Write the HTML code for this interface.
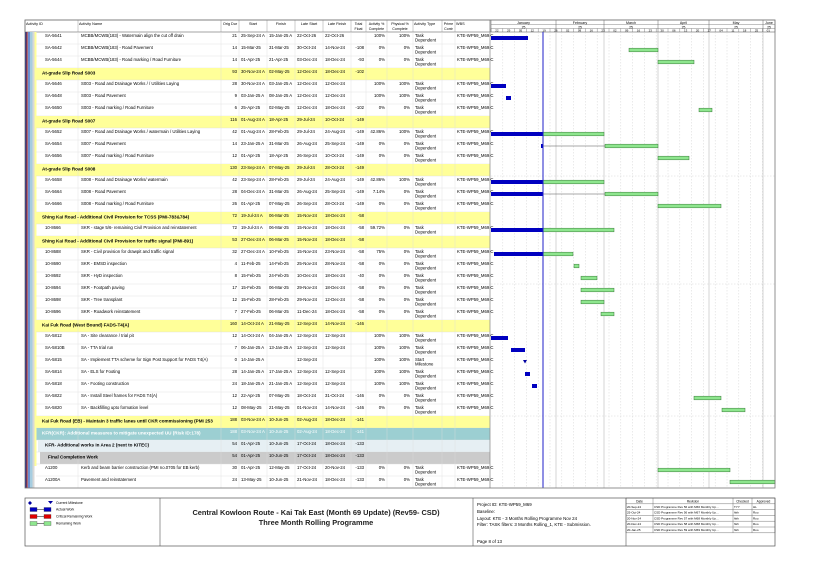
<!DOCTYPE html>
<html><head><meta charset="utf-8"><style>
html,body{margin:0;padding:0;background:#fff;width:822px;height:581px;overflow:hidden}
svg{display:block;font-family:"Liberation Sans",sans-serif}
</style></head><body>
<svg id="s" width="822" height="581" viewBox="0 0 822 581" xmlns="http://www.w3.org/2000/svg"></svg>
<script>
const R=[
['a','SA-5641','MCBB/MCWB(183) - Watermain align the cut off drain','21','25-Sep-24 A','15-Jan-25 A','22-Oct-26','22-Oct-26','','100%','100%','Task Dependent',[['b',491,528]]],
['a','SA-5642','MCBB/MCWB(183) - Road Pavement','14','15-Mar-25','31-Mar-25','30-Oct-24','14-Nov-24','-108','0%','0%','Task Dependent',[['g',629,658]]],
['a','SA-5644','MCBB/MCWB(183) - Road marking / Road Furniture','14','01-Apr-25','21-Apr-25','03-Dec-24','18-Dec-24','-93','0%','0%','Task Dependent',[['g',658,694]]],
['y','','At-grade Slip Road S003','93','30-Nov-24 A','02-May-25','12-Dec-24','18-Dec-24','-102'],
['a','SA-5646','S003 - Road and Drainage Works / / Utilities Laying','28','30-Nov-24 A','03-Jan-25 A','12-Dec-24','12-Dec-24','','100%','100%','Task Dependent',[['b',491,506]]],
['a','SA-5648','S003 - Road Pavement','9','03-Jan-25 A','08-Jan-25 A','12-Dec-24','12-Dec-24','','100%','100%','Task Dependent',[['b',506,511]]],
['a','SA-5650','S003 - Road marking / Road Furniture','6','25-Apr-25','02-May-25','12-Dec-24','18-Dec-24','-102','0%','0%','Task Dependent',[['g',699,712]]],
['y','','At-grade Slip Road S007','116','01-Aug-24 A','18-Apr-25','29-Jul-24','10-Oct-24','-149'],
['a','SA-5652','S007 - Road and Drainage Works / watermain / Utilities Laying','42','01-Aug-24 A','28-Feb-25','29-Jul-24','24-Aug-24','-149','42.86%','100%','Task Dependent',[['b',491,543],['g',543,604]]],
['a','SA-5654','S007 - Road Pavement','14','23-Jan-25 A','31-Mar-25','26-Aug-24','25-Sep-24','-149','0%','0%','Task Dependent',[['b',541,543],['l',543,605],['g',605,658]]],
['a','SA-5656','S007 - Road marking / Road Furniture','12','01-Apr-25','18-Apr-25','26-Sep-24','10-Oct-24','-149','0%','0%','Task Dependent',[['g',658,689]]],
['y','','At-grade Slip Road S008','130','23-Sep-24 A','07-May-25','29-Jul-24','28-Oct-24','-149'],
['a','SA-5658','S008 - Road and Drainage Works/ watermain','42','23-Sep-24 A','28-Feb-25','29-Jul-24','24-Aug-24','-149','42.86%','100%','Task Dependent',[['b',491,543],['g',543,604]]],
['a','SA-5664','S008 - Road Pavement','28','04-Dec-24 A','31-Mar-25','26-Aug-24','25-Sep-24','-149','7.14%','0%','Task Dependent',[['b',491,543],['l',543,605],['g',605,658]]],
['a','SA-5666','S008 - Road marking / Road Furniture','26','01-Apr-25','07-May-25','26-Sep-24','28-Oct-24','-149','0%','0%','Task Dependent',[['g',658,721]]],
['y','','Shing Kai Road - Additional Civil Provision for TCSS (PMI-783&784)','72','19-Jul-24 A','06-Mar-25','15-Nov-24','18-Dec-24','-58'],
['a','10-8666','SKR - stage 5/6- remaining Civil Provision and reinstatement','72','19-Jul-24 A','06-Mar-25','15-Nov-24','18-Dec-24','-58','59.72%','0%','Task Dependent',[['b',491,543],['g',543,614]]],
['y','','Shing Kai Road - Additional Civil Provision for traffic signal (PMI-891)','53','27-Dec-24 A','06-Mar-25','15-Nov-24','18-Dec-24','-58'],
['a','10-8688','SKR - Civil provision for drawpit and traffic signal','32','27-Dec-24 A','10-Feb-25','15-Nov-24','23-Nov-24','-58','75%','0%','Task Dependent',[['b',494,543],['g',543,573]]],
['a','10-8690','SKR - EMSD inspection','4','11-Feb-25','14-Feb-25','25-Nov-24','28-Nov-24','-58','0%','0%','Task Dependent',[['g',574,579]]],
['a','10-8692','SKR - HyD inspection','8','15-Feb-25','24-Feb-25','10-Dec-24','18-Dec-24','-40','0%','0%','Task Dependent',[['g',581,597]]],
['a','10-8694','SKR - Footpath paving','17','15-Feb-25','06-Mar-25','29-Nov-24','18-Dec-24','-58','0%','0%','Task Dependent',[['g',581,614]]],
['a','10-8698','SKR - Tree transplant','12','15-Feb-25','28-Feb-25','29-Nov-24','12-Dec-24','-58','0%','0%','Task Dependent',[['g',581,604]]],
['a','10-8696','SKR - Roadwork reinstatement','7','27-Feb-25','06-Mar-25','11-Dec-24','18-Dec-24','-58','0%','0%','Task Dependent',[['g',601,614]]],
['y','','Kai Fuk Road (West Bound) FADS-T4(A)','160','14-Oct-24 A','21-May-25','12-Sep-24','14-Nov-24','-146'],
['a','SA-5812','SA - Site clearance / trial pit','12','14-Oct-24 A','04-Jan-25 A','12-Sep-24','12-Sep-24','','100%','100%','Task Dependent',[['b',491,508]]],
['a','SA-5810B','SA - TTA trial run','7','06-Jan-25 A','13-Jan-25 A','12-Sep-24','12-Sep-24','','100%','100%','Task Dependent',[['b',511,525]]],
['a','SA-5815','SA - Implement TTA scheme for Sign Post Support for FADS T4(A)','0','14-Jan-25 A','','12-Sep-24','','','100%','100%','Start Milestone',[['m',525,525]]],
['a','SA-5814','SA - ELS for Footing','28','14-Jan-25 A','17-Jan-25 A','12-Sep-24','12-Sep-24','','100%','100%','Task Dependent',[['b',525,530]]],
['a','SA-5818','SA - Footing construction','24','18-Jan-25 A','21-Jan-25 A','12-Sep-24','12-Sep-24','','100%','100%','Task Dependent',[['b',532,537]]],
['a','SA-5822','SA - Install Steel frames for FADS T4(A)','12','22-Apr-25','07-May-25','18-Oct-24','31-Oct-24','-146','0%','0%','Task Dependent',[['g',694,721]]],
['a','SA-5820','SA - Backfilling upto formation level','12','08-May-25','21-May-25','01-Nov-24','14-Nov-24','-146','0%','0%','Task Dependent',[['g',722,745]]],
['y','','Kai Fuk Road (EB) - Maintain 3 traffic lanes until CKR commissioning (PMI 253','188','03-Nov-24 A','10-Jun-25','02-Aug-24','18-Dec-24','-141'],
['t','','KFR(CKR): Additional measures to mitigate unexpected UU (Risk ID:178)','188','03-Nov-24 A','10-Jun-25','02-Aug-24','18-Dec-24','-141'],
['l','','KFR- Additional works in Area 2 (next to KITEC)','54','01-Apr-25','10-Jun-25','17-Oct-24','18-Dec-24','-133'],
['g','','Final Completion Work','54','01-Apr-25','10-Jun-25','17-Oct-24','18-Dec-24','-133'],
['a','A1200','Kerb and beam barrier construction (PMI no.0705 for EB kerb)','30','01-Apr-25','12-May-25','17-Oct-24','20-Nov-24','-133','0%','0%','Task Dependent',[['g',658,730]]],
['a','A1200A','Pavement and reinstatement','24','13-May-25','10-Jun-25','21-Nov-24','18-Dec-24','-133','0%','0%','Task Dependent',[['g',730,775]]]
];
let o='';
const T=(x,y,t,opt={})=>`<text x="${x}" y="${y}" font-size="${opt.fs||4.3}" ${opt.a?'text-anchor="'+opt.a+'"':''} ${opt.b?'font-weight="bold"':''} fill="${opt.c||'#000'}">${t}</text>`;
// header
o+='<rect x="25" y="20" width="750" height="12" fill="#fff" stroke="#666" stroke-width="0.6"/>';
const cols=[25,78,221,239,267,295,323,351,366,387,413,442,455,490];
const hdr=['Activity ID','Activity Name','Orig Dur','Start','Finish','Late Start','Late Finish','Total Float','Activity % Complete','Physical % Complete','Activity Type','Prime Contr','WBS'];
cols.forEach(x=>o+=`<line x1="${x}" y1="20" x2="${x}" y2="32" stroke="#999" stroke-width="0.5"/>`);
hdr.forEach((h,i)=>{const w=h.split(' ');if(i>=7&&i<=9||i==11){const m=Math.ceil(w.length/2);o+=T((cols[i]+cols[i+1])/2,25,w.slice(0,m).join(' '),{a:'middle',fs:3.6})+T((cols[i]+cols[i+1])/2,30,w.slice(m).join(' '),{a:'middle',fs:3.6});}else if(i<2||i==12||i==10)o+=T(cols[i]+1,25,h,{fs:3.8});else o+=T((cols[i]+cols[i+1])/2,25,h,{a:'middle',fs:3.8});});
// gantt header
const mon=[[491,556,'January','25'],[556,604,'February','25'],[604,658,'March','25'],[658,709,'April','25'],[709,763,'May','25'],[763,775,'June','25']];
mon.forEach(m=>{o+=`<line x1="${m[0]}" y1="20" x2="${m[0]}" y2="32" stroke="#666" stroke-width="0.5"/>`;o+=T((m[0]+m[1])/2,24,m[2],{a:'middle',fs:3.6})+T((m[0]+m[1])/2,28.5,m[3],{a:'middle',fs:3.4});});
o+='<line x1="491" y1="24.5" x2="775" y2="24.5" stroke="#666" stroke-width="0.4"/><line x1="491" y1="28.5" x2="775" y2="28.5" stroke="#666" stroke-width="0.4"/>';
const days=['22','29','05','12','19','26','02','09','16','23','02','09','16','23','30','06','13','20','27','04','11','18','25','01'];
for(let i=0;i<24;i++){const x=491+i*11.8;o+=`<line x1="${x}" y1="28.5" x2="${x}" y2="32" stroke="#666" stroke-width="0.4"/>`+T(x+5.9,31.5,days[i],{a:'middle',fs:3});}
// color strips
o+='<rect x="25" y="32" width="1.5" height="456" fill="#1a2a8a"/><rect x="26.5" y="32" width="1.2" height="456" fill="#c0392b"/><rect x="27.7" y="32" width="2.3" height="456" fill="#6b8fd0"/><rect x="30" y="32" width="2.5" height="456" fill="#a6cde0"/><rect x="32.5" y="32" width="2" height="456" fill="#d8d8d8"/><rect x="34.5" y="32" width="2" height="434" fill="#ffff99"/>';
const bg={y:'#ffff99',t:'#9ccfd2',l:'#e6eff3',g:'#cbcbcb'};
R.forEach((r,i)=>{const y=32+i*12;
 if(r[0]!='a'){const x0=r[0]=='y'?36.5:(r[0]=='t'?36.5:(r[0]=='l'?38:40));o+=`<rect x="${x0}" y="${y}" width="${490-x0}" height="12" fill="${bg[r[0]]}"/>`;}
 o+=`<line x1="36" y1="${y+12}" x2="490" y2="${y+12}" stroke="#ddd" stroke-width="0.4"/>`;
});
for(let c=1;c<cols.length;c++)o+=`<line x1="${cols[c]}" y1="32" x2="${cols[c]}" y2="488" stroke="#ddd" stroke-width="0.4"/>`;
// gantt grid
for(let i=1;i<24;i++){const x=491+i*11.8;o+=`<line x1="${x}" y1="32" x2="${x}" y2="488" stroke="#ccc" stroke-width="0.4" stroke-dasharray="1.5,1.5"/>`;}
mon.slice(1).forEach(m=>o+=`<line x1="${m[0]}" y1="32" x2="${m[0]}" y2="488" stroke="#bbb" stroke-width="0.6"/>`);
[176,284,416].forEach(y=>o+=`<line x1="491" y1="${y}" x2="775" y2="${y}" stroke="#ccc" stroke-width="0.4" stroke-dasharray="1.5,1.5"/>`);
R.forEach((r,i)=>{const y=32+i*12,ty=y+5;
 const white=r[0]=='t';const c=white?'#fff':'#000';
 if(r[0]=='a'){o+=T(45,ty,r[1])+T(81,ty,r[2]);}
 else{const x0=r[0]=='y'?42:(r[0]=='t'?42:(r[0]=='l'?45:48));o+=T(x0,ty+1.5,r[2],{b:1,c,fs:4.6});}
 o+=T(237,ty,r[3],{a:'end',c})+T(241,ty,r[4],{c})+T(269,ty,r[5],{c})+T(297,ty,r[6],{c})+T(325,ty,r[7],{c})+T(364,ty,r[8],{a:'end',c});
 if(r[0]=='a'){o+=T(385,ty,r[9],{a:'end'})+T(410,ty,r[10],{a:'end'});
  const tt=r[11].split(' ');o+=T(415,ty,tt[0]);if(tt[1])o+=T(415,ty+4.5,tt[1]);
  o+=T(457,ty,'KTE-WP59_M69.C');
  r[12].forEach(b=>{const cy=y+6;
   if(b[0]=='b')o+=`<rect x="${b[1]}" y="${cy-2}" width="${b[2]-b[1]}" height="4" fill="#0000c0"/>`;
   if(b[0]=='g')o+=`<rect x="${b[1]}" y="${cy-1.8}" width="${b[2]-b[1]}" height="3.6" fill="#8ee68e" stroke="#3a7a3a" stroke-width="0.5"/>`;
   if(b[0]=='l')o+=`<line x1="${b[1]}" y1="${cy}" x2="${b[2]}" y2="${cy}" stroke="#555" stroke-width="0.6"/>`;
   if(b[0]=='m')o+=`<path d="M${b[1]-2},${cy-2} L${b[1]+2},${cy-2} L${b[1]},${cy+1.5}Z" fill="#0000a0"/>`;
  });}
});
o+='<line x1="543" y1="32" x2="543" y2="488" stroke="#1f1fc8" stroke-width="1"/>';
o+='<rect x="25" y="20" width="750" height="468" fill="none" stroke="#777" stroke-width="0.8"/><line x1="490" y1="20" x2="490" y2="488" stroke="#777" stroke-width="0.6"/>';
// footer
o+='<rect x="25" y="498" width="750" height="48" fill="#fff" stroke="#555" stroke-width="0.7"/><line x1="160" y1="498" x2="160" y2="546" stroke="#555" stroke-width="0.6"/><line x1="473" y1="498" x2="473" y2="546" stroke="#555" stroke-width="0.6"/><line x1="626" y1="498" x2="626" y2="546" stroke="#555" stroke-width="0.6"/>';
o+='<path d="M30,501 l2,2 l-2,2 l-2,-2z" fill="#0000a0"/><path d="M48,501 h5 l-2.5,3z" fill="#0000a0"/>'+T(56,504,'Current Milestone',{fs:3.4});
[['#0000c0','Actual Work',509],['#e00000','Critical Remaining Work',516],['#8ee68e','Remaining Work',523]].forEach(l=>{o+=`<rect x="30" y="${l[2]-1.5}" width="7" height="4" fill="${l[0]}" stroke="#333" stroke-width="0.3"/><line x1="37" y1="${l[2]+0.5}" x2="44" y2="${l[2]+0.5}" stroke="#333" stroke-width="0.6"/><rect x="44" y="${l[2]-1.5}" width="7" height="4" fill="${l[0]}" stroke="#333" stroke-width="0.3"/>`+T(56,l[2]+1.5,l[1],{fs:3.4});});
o+=T(316,515,'Central Kowloon Route - Kai Tak East (Month 69 Update) (Rev59- CSD)',{a:'middle',b:1,fs:7.4,c:'#222'})+T(316,525,'Three Month Rolling Programme',{a:'middle',b:1,fs:7.4,c:'#222'});
o+=T(477,506,'Project ID: KTE-WP59_M69',{fs:4.4})+T(477,513,'Baseline:',{fs:4.4})+T(477,520,'Layout: KTE - 3 Months Rolling Programme Nov 24',{fs:4.4})+T(477,526,'Filter: TASK filters: 3 Months Rolling_1, KTE - Submission.',{fs:4.4})+T(477,543,'Page 8 of 13',{fs:4.4});
const tc=[626,653,733,752,775];
for(let k=0;k<=6;k++){const y=498+k*5.8;o+=`<line x1="626" y1="${y}" x2="775" y2="${y}" stroke="#555" stroke-width="0.4"/>`;}
tc.forEach(x=>o+=`<line x1="${x}" y1="498" x2="${x}" y2="532.8" stroke="#555" stroke-width="0.4"/>`);
o+=T(639.5,502.5,'Date',{a:'middle',fs:3.2})+T(693,502.5,'Revision',{a:'middle',fs:3.2})+T(742.5,502.5,'Checked',{a:'middle',fs:3.2})+T(763.5,502.5,'Approved',{a:'middle',fs:3.2});
[['20-Sep-24','CSD Programme Rev 56 with M66 Monthly Up...','TYY','HL'],['25-Oct-24','CSD Programme Rev 56 with M67 Monthly Up...','hkh','Roo'],['20-Nov-24','CSD Programme Rev 57 with M68 Monthly Up...','hkh','Roo'],['20-Dec-24','CSD Programme Rev 58 with M68 Monthly Up...','hkh','Roo'],['20-Jan-25','CSD Programme Rev 59 with M69 Monthly Up...','hkh','Roo']].forEach((r,k)=>{const y=498+(k+1)*5.8+4;o+=T(627,y,r[0],{fs:3})+T(654,y,r[1],{fs:3})+T(734,y,r[2],{fs:3})+T(753,y,r[3],{fs:3});});
document.getElementById('s').innerHTML=o;
</script>
</body></html>
